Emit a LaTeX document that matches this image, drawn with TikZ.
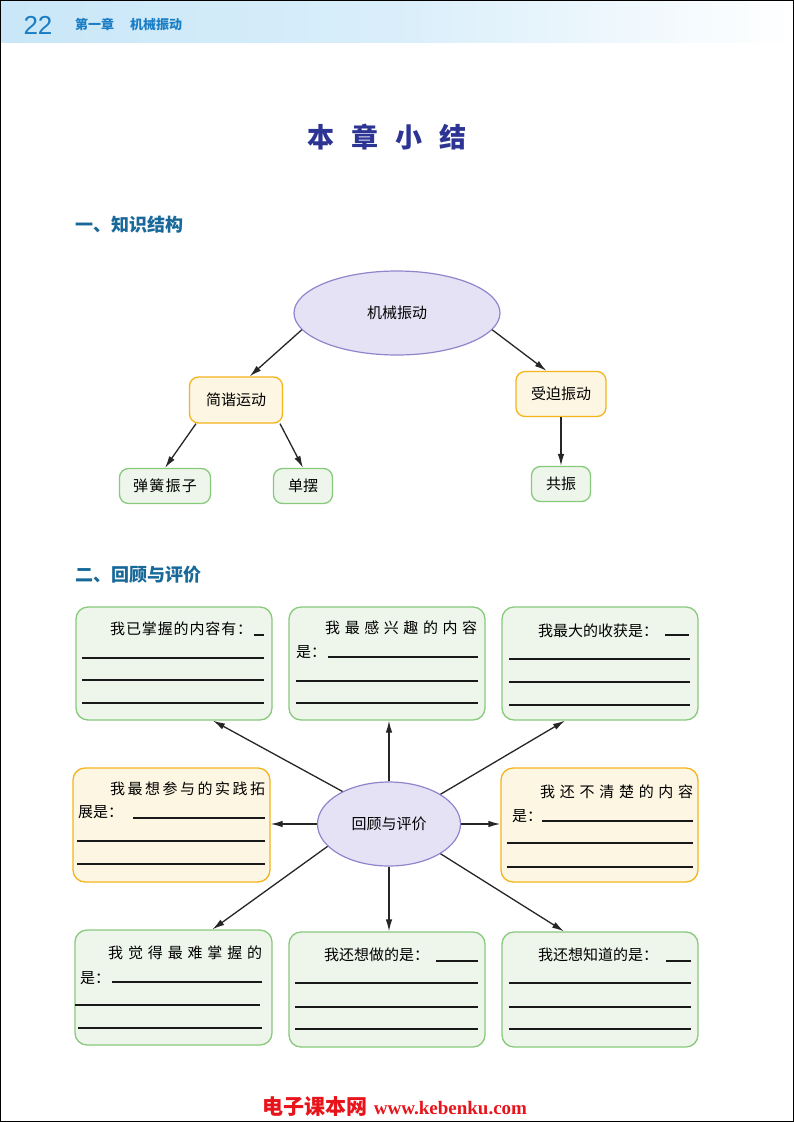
\documentclass[tikz,border=0pt]{standalone}
\usepackage{fontspec}
\setmainfont{Noto Sans CJK SC}
\newfontfamily\numfont{Liberation Sans}
\newfontfamily\webfont{Liberation Serif}
\usetikzlibrary{shapes.geometric, arrows.meta}

\definecolor{hdrblue}{HTML}{C9E7F8}
\definecolor{numblue}{HTML}{1B7DC3}
\definecolor{titleblue}{HTML}{2C3494}
\definecolor{secblue}{HTML}{18699A}
\definecolor{ovalfill}{HTML}{E4E2F4}
\definecolor{ovalline}{HTML}{8E86CC}
\definecolor{orfill}{HTML}{FDF6E3}
\definecolor{orline}{HTML}{F4B41C}
\definecolor{grfill}{HTML}{EEF6EC}
\definecolor{grline}{HTML}{88CA7C}
\definecolor{webred}{HTML}{E8141B}

\newcommand{\spread}[2]{\makebox[#1][s]{#2}}

\begin{document}
\begin{tikzpicture}[x=1pt, y=-1pt, font=\fontsize{15}{18}\selectfont,
  oval/.style={ellipse, draw=ovalline, fill=ovalfill, line width=1.2pt},
  orbox/.style={draw=orline, fill=orfill, rounded corners=9pt, line width=1.3pt},
  grbox/.style={draw=grline, fill=grfill, rounded corners=9pt, line width=1.3pt},
  arr/.style={-{Latex[length=12pt, width=6.5pt]}, line width=1.3pt, black!85},
  say/.style={anchor=west, inner sep=0pt},
  blank/.style={line width=1.6pt, black!90}]
\useasboundingbox (0,0) rectangle (794,1122);
\fill [white] (0,0) rectangle (794,1122);

% page header
\shade [left color=hdrblue, right color=white, middle color=hdrblue!70] (0,0) rectangle (794,42);
\node (hdnum) at (38,25) {\numfont\fontsize{26}{26}\selectfont\color{numblue}22};
\node [say] (hdchap) at (75,25) {\fontsize{13}{13}\selectfont\bfseries\color{numblue}第一章\hspace{16pt}机械振动};
\draw [black, line width=0.8pt] (0.4,0.4) rectangle (793.6,1121.6);

% title and sections
\node (title) at (387,137) {\fontsize{27}{27}\selectfont\bfseries\color{titleblue}\spread{160pt}{本\hfill 章\hfill 小\hfill 结}};
\node [say] (sec1) at (75,225) {\fontsize{18}{18}\selectfont\bfseries\color{secblue}一、知识结构};
\node [say] (sec2) at (75,575) {\fontsize{18}{18}\selectfont\bfseries\color{secblue}二、回顾与评价};

% knowledge structure
\node [oval, minimum width=206pt, minimum height=84pt] (jxzd) at (397,313) {机械振动};
\node [orbox, minimum width=93pt, minimum height=46pt] (jxyd) at (236,400) {简谐运动};
\node [orbox, minimum width=90pt, minimum height=45pt] (spzd) at (561,394) {受迫振动};
\node [grbox, minimum width=91pt, minimum height=35pt] (thzz) at (165,486) {\spread{64pt}{弹\hfill 簧\hfill 振\hfill 子}};
\node [grbox, minimum width=59pt, minimum height=35pt] (danbai) at (303,486) {单摆};
\node [grbox, minimum width=59pt, minimum height=35pt] (gongzhen) at (561,484) {共振};
\draw [arr] (jxzd.190) -- (jxyd.60);
\draw [arr] (jxzd.-10) -- (spzd.122);
\draw [arr] ([xshift=-40]jxyd.south) -- (thzz.north);
\draw [arr] ([xshift=44]jxyd.south) -- (danbai.north);
\draw [arr] (spzd.south) -- (gongzhen.north);

% review boxes
\node [grbox, rounded corners=12pt, minimum width=196pt, minimum height=113pt] (b1) at (174,663.5) {};
\node [grbox, rounded corners=12pt, minimum width=196pt, minimum height=113pt] (b2) at (387,663.5) {};
\node [grbox, rounded corners=12pt, minimum width=196pt, minimum height=113pt] (b3) at (600,663.5) {};
\node [orbox, rounded corners=12pt, minimum width=197pt, minimum height=114pt] (b4) at (171.5,825) {};
\node [orbox, rounded corners=12pt, minimum width=197pt, minimum height=114pt] (b5) at (599.5,825) {};
\node [grbox, rounded corners=12pt, minimum width=197pt, minimum height=115pt] (b6) at (173.5,987.5) {};
\node [grbox, rounded corners=12pt, minimum width=196pt, minimum height=115pt] (b7) at (387,989.5) {};
\node [grbox, rounded corners=12pt, minimum width=196pt, minimum height=115pt] (b8) at (600,989.5) {};
\node [oval, minimum width=143pt, minimum height=84pt] (hgpj) at (389,824) {回顾与评价};

\draw [arr] (hgpj.145) -- ([xshift=39]b1.south);
\draw [arr] (hgpj.north) -- (hgpj.north |- b2.south);
\draw [arr] (hgpj.30) -- ([xshift=-35]b3.south);
\draw [arr] (hgpj.west) -- (hgpj.west -| b4.east);
\draw [arr] (hgpj.east) -- (hgpj.east -| b5.west);
\draw [arr] (hgpj.200) -- ([xshift=39]b6.north);
\draw [arr] (hgpj.south) -- (hgpj.south |- b7.north);
\draw [arr] (hgpj.-30) -- ([xshift=-36]b8.north);

% box 1
\node [say] (t1) at (110,629) {\spread{142pt}{我\hfill 已\hfill 掌\hfill 握\hfill 的\hfill 内\hfill 容\hfill 有\hfill ：}};
\draw [blank] (254,635) -- (264,635);
\foreach \y in {658,680,703} \draw [blank] (82,\y) -- (264,\y);
% box 2
\node [say] (t2) at (325,628) {\spread{152pt}{我\hfill 最\hfill 感\hfill 兴\hfill 趣\hfill 的\hfill 内\hfill 容}};
\node [say] (t2b) at (296,652) {是：};
\draw [blank] (328,657) -- (478,657);
\foreach \y in {681,703} \draw [blank] (296,\y) -- (478,\y);
% box 3
\node [say] (t3) at (538,631) {我最大的收获是：};
\draw [blank] (665,635) -- (689,635);
\foreach \y in {659,682,705} \draw [blank] (509,\y) -- (690,\y);
% box 4
\node [say] (t4) at (110,789) {\spread{155pt}{我\hfill 最\hfill 想\hfill 参\hfill 与\hfill 的\hfill 实\hfill 践\hfill 拓}};
\node [say] (t4b) at (78,812) {展是：};
\draw [blank] (133,818) -- (265,818);
\foreach \y in {841,864} \draw [blank] (77,\y) -- (265,\y);
% box 5
\node [say] (t5) at (540,792) {\spread{153pt}{我\hfill 还\hfill 不\hfill 清\hfill 楚\hfill 的\hfill 内\hfill 容}};
\node [say] (t5b) at (512,816) {是：};
\draw [blank] (542,821) -- (693,821);
\foreach \y in {843,867} \draw [blank] (507,\y) -- (693,\y);
% box 6
\node [say] (t6) at (108,953) {\spread{154pt}{我\hfill 觉\hfill 得\hfill 最\hfill 难\hfill 掌\hfill 握\hfill 的}};
\node [say] (t6b) at (80,978) {是：};
\draw [blank] (112,982) -- (262,982);
\draw [blank] (75,1005) -- (260,1005);
\draw [blank] (78,1028) -- (262,1028);
% box 7
\node [say] (t7) at (324,955) {我还想做的是：};
\draw [blank] (436,961) -- (478,961);
\foreach \y in {983,1007,1029} \draw [blank] (295,\y) -- (478,\y);
% box 8
\node [say] (t8) at (538,955) {我还想知道的是：};
\draw [blank] (666,961) -- (691,961);
\foreach \y in {983,1007,1029} \draw [blank] (509,\y) -- (691,\y);

% footer
\node (web) at (395,1107) {\color{webred}\bfseries\fontsize{21}{21}\selectfont 电子课本网\hspace{6pt}{\webfont\fontsize{19}{19}\selectfont www.kebenku.com}};
\end{tikzpicture}
\end{document}
